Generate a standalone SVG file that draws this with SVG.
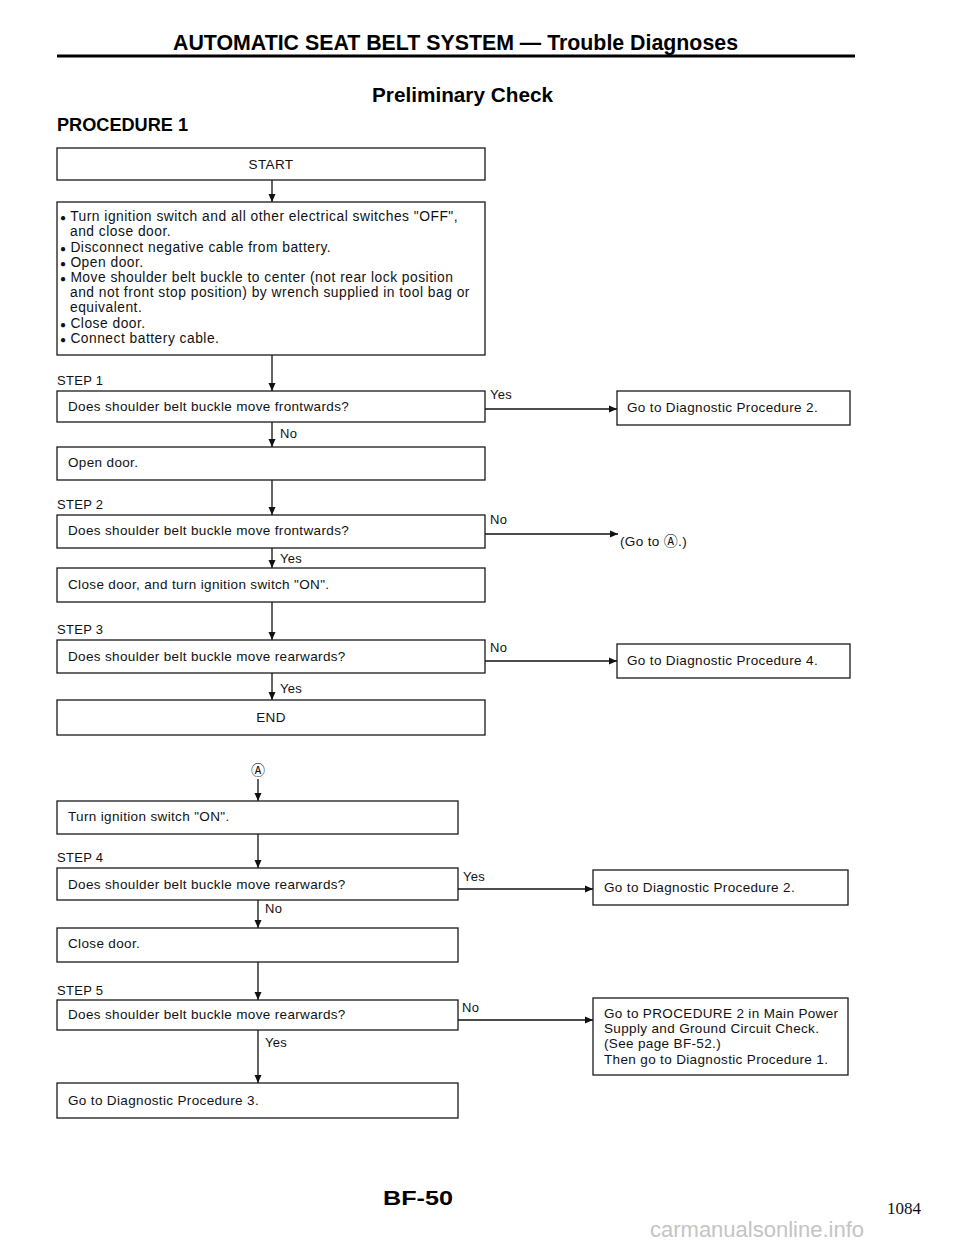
<svg xmlns="http://www.w3.org/2000/svg" width="960" height="1242" viewBox="0 0 960 1242">
<defs>
<marker id="ah" markerWidth="10" markerHeight="10" refX="8" refY="5" orient="auto" markerUnits="userSpaceOnUse">
<path d="M0,1.5 L8,5 L0,8.5 Z" fill="#111"/>
</marker>
<style>
.box{fill:#fff;stroke:#1a1a1a;stroke-width:1.3}
.t{font-family:"Liberation Sans",Arial,sans-serif;font-size:13.5px;letter-spacing:0.35px;fill:#111}
.b{font-family:"Liberation Sans",Arial,sans-serif;font-size:13.8px;letter-spacing:0.5px;fill:#111}
.dot{font-size:10px;letter-spacing:0}
.lb{font-family:"Liberation Sans",Arial,sans-serif;font-size:13px;letter-spacing:0.3px;fill:#111}
.c{stroke:#111;stroke-width:1.3;fill:none;marker-end:url(#ah)}
.h{font-family:"Liberation Sans Narrow","Liberation Sans",Arial,sans-serif;font-weight:bold;fill:#000}
.circ{font-family:"DejaVu Sans","Noto Sans CJK JP",sans-serif;font-size:14px;fill:#111}
</style>
</defs>
<rect width="960" height="1242" fill="#fff"/>

<g id="header">
<text class="h" x="173" y="50" font-size="22" textLength="565" lengthAdjust="spacingAndGlyphs">AUTOMATIC SEAT BELT SYSTEM — Trouble Diagnoses</text>
<line x1="57" y1="56" x2="855" y2="56" stroke="#000" stroke-width="3"/>
<text class="h" x="372" y="102" font-size="21" textLength="181" lengthAdjust="spacingAndGlyphs">Preliminary Check</text>
<text class="h" x="57" y="131" font-size="18" textLength="131" lengthAdjust="spacingAndGlyphs">PROCEDURE 1</text>
</g>

<g id="connectors">
<line class="c" x1="272" y1="180" x2="272" y2="202"/>
<line class="c" x1="272" y1="355" x2="272" y2="391"/>
<line class="c" x1="272" y1="422" x2="272" y2="447"/>
<line class="c" x1="272" y1="480" x2="272" y2="515"/>
<line class="c" x1="272" y1="548" x2="272" y2="568"/>
<line class="c" x1="272" y1="602" x2="272" y2="640"/>
<line class="c" x1="272" y1="673" x2="272" y2="700"/>
<line class="c" x1="485" y1="409" x2="617" y2="409"/>
<line class="c" x1="485" y1="534" x2="618" y2="534"/>
<line class="c" x1="485" y1="661" x2="617" y2="661"/>
<line class="c" x1="258" y1="779" x2="258" y2="801"/>
<line class="c" x1="258" y1="834" x2="258" y2="868"/>
<line class="c" x1="258" y1="900" x2="258" y2="928"/>
<line class="c" x1="258" y1="962" x2="258" y2="1000"/>
<line class="c" x1="258" y1="1030" x2="258" y2="1083"/>
<line class="c" x1="458" y1="889" x2="593" y2="889"/>
<line class="c" x1="458" y1="1020" x2="593" y2="1020"/>
<text class="lb" x="280" y="438">No</text>
<text class="lb" x="490" y="399">Yes</text>
<text class="lb" x="280" y="563">Yes</text>
<text class="lb" x="490" y="524">No</text>
<text class="lb" x="280" y="693">Yes</text>
<text class="lb" x="490" y="652">No</text>
<text class="lb" x="265" y="913">No</text>
<text class="lb" x="463" y="881">Yes</text>
<text class="lb" x="462" y="1012">No</text>
<text class="lb" x="265" y="1047">Yes</text>
</g>

<g id="start">
<rect class="box" x="57" y="148" width="428" height="32"/>
<text class="t" x="271" y="169" text-anchor="middle">START</text>
</g>

<g id="prep">
<rect class="box" x="57" y="202" width="428" height="153"/>
<text class="b" x="60" y="221"><tspan class="dot">●</tspan> Turn ignition switch and all other electrical switches "OFF",</text>
<text class="b" x="70" y="236">and close door.</text>
<text class="b" x="60" y="252"><tspan class="dot">●</tspan> Disconnect negative cable from battery.</text>
<text class="b" x="60" y="267"><tspan class="dot">●</tspan> Open door.</text>
<text class="b" x="60" y="282"><tspan class="dot">●</tspan> Move shoulder belt buckle to center (not rear lock position</text>
<text class="b" x="70" y="297">and not front stop position) by wrench supplied in tool bag or</text>
<text class="b" x="70" y="312">equivalent.</text>
<text class="b" x="60" y="328"><tspan class="dot">●</tspan> Close door.</text>
<text class="b" x="60" y="343"><tspan class="dot">●</tspan> Connect battery cable.</text>
</g>

<g id="step1">
<text class="lb" x="57" y="385">STEP 1</text>
<rect class="box" x="57" y="391" width="428" height="31"/>
<text class="t" x="68" y="411">Does shoulder belt buckle move frontwards?</text>
</g>

<g id="diag2a">
<rect class="box" x="617" y="391" width="233" height="34"/>
<text class="t" x="627" y="412">Go to Diagnostic Procedure 2.</text>
</g>

<g id="opendoor">
<rect class="box" x="57" y="447" width="428" height="33"/>
<text class="t" x="68" y="467">Open door.</text>
</g>

<g id="step2">
<text class="lb" x="57" y="509">STEP 2</text>
<rect class="box" x="57" y="515" width="428" height="33"/>
<text class="t" x="68" y="535">Does shoulder belt buckle move frontwards?</text>
</g>

<g id="gotoA">
<text class="t" x="620" y="546">(Go to <tspan class="circ">Ⓐ</tspan>.)</text>
</g>

<g id="closeon">
<rect class="box" x="57" y="568" width="428" height="34"/>
<text class="t" x="68" y="589">Close door, and turn ignition switch "ON".</text>
</g>

<g id="step3">
<text class="lb" x="57" y="634">STEP 3</text>
<rect class="box" x="57" y="640" width="428" height="33"/>
<text class="t" x="68" y="661">Does shoulder belt buckle move rearwards?</text>
</g>

<g id="diag4">
<rect class="box" x="617" y="644" width="233" height="34"/>
<text class="t" x="627" y="665">Go to Diagnostic Procedure 4.</text>
</g>

<g id="end">
<rect class="box" x="57" y="700" width="428" height="35"/>
<text class="t" x="271" y="722" text-anchor="middle">END</text>
</g>

<g id="labelA">
<text class="circ" x="258" y="775" text-anchor="middle">Ⓐ</text>
</g>

<g id="turnon">
<rect class="box" x="57" y="801" width="401" height="33"/>
<text class="t" x="68" y="821">Turn ignition switch "ON".</text>
</g>

<g id="step4">
<text class="lb" x="57" y="862">STEP 4</text>
<rect class="box" x="57" y="868" width="401" height="32"/>
<text class="t" x="68" y="889">Does shoulder belt buckle move rearwards?</text>
</g>

<g id="diag2b">
<rect class="box" x="593" y="870" width="255" height="35"/>
<text class="t" x="604" y="892">Go to Diagnostic Procedure 2.</text>
</g>

<g id="closedoor">
<rect class="box" x="57" y="928" width="401" height="34"/>
<text class="t" x="68" y="948">Close door.</text>
</g>

<g id="step5">
<text class="lb" x="57" y="995">STEP 5</text>
<rect class="box" x="57" y="1000" width="401" height="30"/>
<text class="t" x="68" y="1019">Does shoulder belt buckle move rearwards?</text>
</g>

<g id="proc2">
<rect class="box" x="593" y="998" width="255" height="77"/>
<text class="t" x="604" y="1018">Go to PROCEDURE 2 in Main Power</text>
<text class="t" x="604" y="1033">Supply and Ground Circuit Check.</text>
<text class="t" x="604" y="1048">(See page BF-52.)</text>
<text class="t" x="604" y="1064">Then go to Diagnostic Procedure 1.</text>
</g>

<g id="diag3">
<rect class="box" x="57" y="1083" width="401" height="35"/>
<text class="t" x="68" y="1105">Go to Diagnostic Procedure 3.</text>
</g>

<g id="footer">
<text class="h" x="383" y="1205" font-size="21" textLength="70" lengthAdjust="spacingAndGlyphs">BF-50</text>
<text x="887" y="1214" font-family="'Liberation Serif','Times New Roman',serif" font-size="17" fill="#111">1084</text>
<text x="650" y="1237" font-family="'Liberation Sans',Arial,sans-serif" font-size="22" fill="#c4c4c4">carmanualsonline.info</text>
</g>
</svg>
